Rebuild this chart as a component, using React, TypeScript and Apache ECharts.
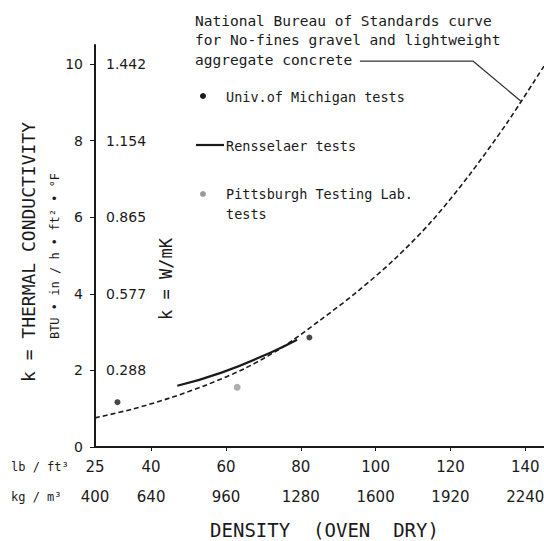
import React, { useEffect, useRef } from "react";
import * as echarts from "echarts";

// NBS curve
const nbsDensity = [25, 35, 45, 55, 65, 75, 85, 95, 105, 115, 125, 135, 145];
const nbsK = [0.76, 0.99, 1.28, 1.63, 2.05, 2.6, 3.3, 4.05, 4.9, 5.9, 7.1, 8.45, 9.95];

// Rensselaer tests (solid line)
const rensDensity = [47, 59, 72, 79];
const rensK = [1.6, 1.95, 2.47, 2.8];

// Univ. of Michigan tests
const michDensity = [31, 82.3];
const michK = [1.17, 2.86];

// Pittsburgh Testing Lab tests
const pittDensity = [63];
const pittK = [1.56];

// leader line from annotation to curve
const leaderDensity = [95.8, 126, 139];
const leaderK = [10.08, 10.08, 9.02];

// tick labels
const lbTicks = [25, 40, 60, 80, 100, 120, 140];
const kgTicks = ["400", "640", "960", "1280", "1600", "1920", "2240"];
const kTicks = [0, 2, 4, 6, 8, 10];
const wmkTicks = ["0.288", "0.577", "0.865", "1.154", "1.442"];

const FONT = "DejaVu Sans";
const MONO = "DejaVu Sans Mono";
const INK = "#1a1a1a";

export default function App() {
  const ref = useRef<HTMLDivElement>(null);
  useEffect(() => {
    const chart = echarts.init(ref.current!, undefined, { renderer: "svg" });
    const pair = (xs: number[], ys: number[]) => xs.map((x, i) => [x, ys[i]]);
    const option: any = {
      animation: false,
      backgroundColor: "#fff",
      textStyle: { fontFamily: FONT, color: INK },
      grid: { left: 95, right: 0, top: 45, bottom: 94, outerBoundsMode: "none", containLabel: false },
      xAxis: [
        {
          type: "value",
          min: 25,
          max: 145,
          position: "bottom",
          splitLine: { show: false },
          axisLine: { lineStyle: { color: INK, width: 2 } },
          axisTick: { customValues: lbTicks.slice(1), length: 4, lineStyle: { color: INK } },
          axisLabel: {
            customValues: lbTicks,
            margin: 12,
            fontSize: 15,
            color: INK,
            fontFamily: FONT,
            formatter: (v: number) => String(v),
          },
        },
        {
          type: "value",
          min: 25,
          max: 145,
          position: "bottom",
          offset: 30,
          splitLine: { show: false },
          axisLine: { show: false },
          axisTick: { show: false },
          axisLabel: {
            customValues: lbTicks,
            margin: 12,
            fontSize: 15,
            color: INK,
            fontFamily: FONT,
            formatter: (v: number) => kgTicks[lbTicks.indexOf(v)] ?? "",
          },
          name: "DENSITY  (OVEN  DRY)",
          nameLocation: "middle",
          nameGap: 43,
          nameTextStyle: { fontSize: 19, color: INK, fontFamily: MONO, padding: [0, 0, 0, 10] },
        },
      ],
      yAxis: [
        {
          type: "value",
          min: 0,
          max: 10.5,
          splitLine: { show: false },
          axisLine: { show: true, lineStyle: { color: INK, width: 2 } },
          axisTick: { show: true, customValues: kTicks, length: 5, lineStyle: { color: INK } },
          axisLabel: {
            customValues: kTicks,
            margin: 12,
            fontSize: 14,
            color: INK,
            fontFamily: FONT,
          },
        },
        {
          type: "value",
          min: 0,
          max: 10.5,
          position: "left",
          splitLine: { show: false },
          axisLine: { show: false },
          axisTick: { show: false },
          axisLabel: {
            inside: true,
            customValues: kTicks.slice(1),
            margin: 11,
            fontSize: 14,
            color: INK,
            fontFamily: FONT,
            formatter: (v: number) => wmkTicks[kTicks.indexOf(v) - 1] ?? "",
          },
        },
      ],
      series: [
        {
          type: "line",
          data: pair(nbsDensity, nbsK),
          smooth: 0.3,
          showSymbol: false,
          lineStyle: { color: INK, width: 1.6, type: [5, 3] },
          z: 2,
        },
        {
          type: "line",
          data: pair(rensDensity, rensK),
          smooth: true,
          showSymbol: false,
          lineStyle: { color: INK, width: 2.2 },
          z: 3,
        },
        {
          type: "scatter",
          data: pair(michDensity, michK),
          symbol: "circle",
          symbolSize: 6,
          itemStyle: { color: INK },
          z: 4,
        },
        {
          type: "scatter",
          data: pair(pittDensity, pittK),
          symbol: "circle",
          symbolSize: 7,
          itemStyle: { color: "#9a9a9a" },
          z: 4,
        },
        {
          type: "line",
          data: pair(leaderDensity, leaderK),
          showSymbol: false,
          lineStyle: { color: "#333", width: 1.3 },
          z: 3,
        },
      ],
      graphic: [
        {
          type: "text",
          x: 28,
          y: 252,
          rotation: Math.PI / 2,
          style: {
            text: "k = THERMAL CONDUCTIVITY",
            fontSize: 18,
            fontFamily: MONO,
            fill: INK,
            align: "center",
            verticalAlign: "middle",
          },
        },
        {
          type: "text",
          x: 55,
          y: 256,
          rotation: Math.PI / 2,
          style: {
            text: "BTU • in / h • ft² • °F",
            fontSize: 12,
            fontFamily: MONO,
            fill: INK,
            align: "center",
            verticalAlign: "middle",
          },
        },
        {
          type: "text",
          x: 166,
          y: 279,
          rotation: Math.PI / 2,
          style: {
            text: "k = W/mK",
            fontSize: 17,
            fontFamily: MONO,
            fill: INK,
            align: "center",
            verticalAlign: "middle",
          },
        },
        {
          type: "text",
          x: 11,
          y: 467,
          style: { text: "lb / ft³", fontSize: 12, fontFamily: MONO, fill: INK, verticalAlign: "middle" },
        },
        {
          type: "text",
          x: 11,
          y: 497,
          style: { text: "kg / m³", fontSize: 12, fontFamily: MONO, fill: INK, verticalAlign: "middle" },
        },
        {
          type: "text",
          x: 195,
          y: 11,
          style: {
            text: "National Bureau of Standards curve\nfor No-fines gravel and lightweight\naggregate concrete",
            fontSize: 14.5,
            lineHeight: 19.5,
            fontFamily: MONO,
            fill: INK,
            verticalAlign: "top",
          },
        },
        {
          type: "circle",
          shape: { cx: 203, cy: 96, r: 3 },
          style: { fill: INK },
        },
        {
          type: "text",
          x: 226,
          y: 97,
          style: { text: "Univ.of Michigan tests", fontSize: 13.5, fontFamily: MONO, fill: INK, verticalAlign: "middle" },
        },
        {
          type: "line",
          shape: { x1: 196, y1: 145, x2: 224, y2: 145 },
          style: { stroke: INK, lineWidth: 2.2 },
        },
        {
          type: "text",
          x: 226,
          y: 146,
          style: { text: "Rensselaer tests", fontSize: 13.5, fontFamily: MONO, fill: INK, verticalAlign: "middle" },
        },
        {
          type: "circle",
          shape: { cx: 203, cy: 194, r: 3 },
          style: { fill: "#9a9a9a" },
        },
        {
          type: "text",
          x: 226,
          y: 184,
          style: {
            text: "Pittsburgh Testing Lab.\ntests",
            fontSize: 13.5,
            lineHeight: 20,
            fontFamily: MONO,
            fill: INK,
            verticalAlign: "top",
          },
        },
      ],
    };
    chart.setOption(option);
    return () => chart.dispose();
  }, []);
  return (
    <div
      ref={ref}
      style={{ position: "fixed", left: 0, top: 0, width: 544, height: 541, background: "#fff" }}
    />
  );
}
